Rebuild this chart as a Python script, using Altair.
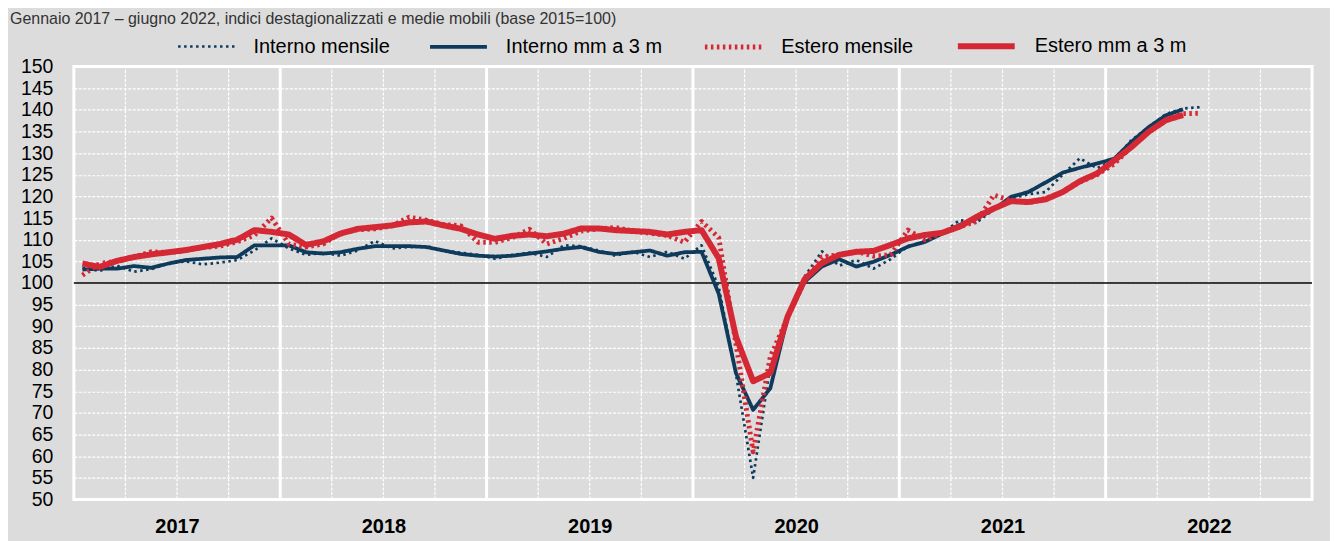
import altair as alt
import pandas as pd

# ---- data ----
series_names = ["Interno mensile", "Interno mm a 3 m", "Estero mensile", "Estero mm a 3 m"]
series_colors = ["#0e3a5c", "#0e3a5c", "#d42835", "#d42835"]
year_labels = ["2017", "2018", "2019", "2020", "2021", "2022"]

# monthly values, Jan 2017 .. Jun 2022
interno_mensile = [
    103.5, 102.8, 104.0, 102.6, 103.2, 104.5, 105.0, 104.3, 104.7, 105.3, 107.5, 110.3,
    108.0, 106.5, 107.0, 106.3, 107.5, 109.7, 108.0, 108.3, 108.5, 107.5, 107.0, 106.5,
    105.6, 106.5, 107.0, 106.0, 108.7, 108.5, 107.5, 106.3, 107.2, 106.0, 107.2, 105.6,
    108.7, 99.0, 79.0, 55.0, 81.0, 92.0, 101.5, 107.3, 104.0, 105.3, 103.3, 105.5,
    108.5, 109.5, 111.5, 114.5, 114.0, 117.0, 119.5, 120.5, 121.0, 125.0, 128.8, 126.5,
    128.5, 133.0, 136.0, 139.0, 140.3, 140.6,
]
estero_mensile = [
    101.8, 104.5, 105.0, 106.0, 107.2, 107.0, 107.5, 108.2, 108.5, 109.5, 111.0, 115.0,
    109.0, 108.3, 109.0, 111.5, 112.3, 112.5, 113.2, 115.2, 114.5, 113.5, 113.2, 109.4,
    109.4, 110.5, 112.4, 109.0, 110.3, 112.0, 112.5, 112.8, 112.0, 111.5, 111.0, 109.4,
    114.2, 110.5, 86.0, 61.0, 83.0, 92.0, 100.5, 106.0, 106.5, 107.3, 106.2, 106.5,
    112.2, 110.0, 111.5, 113.0, 114.2, 120.3, 119.0, 118.5, 119.5, 121.0, 123.3, 125.0,
    127.5, 131.5, 135.0, 137.5, 139.1, 139.2,
]
# 3-month moving averages, Jan 2017 .. May 2022
interno_mm = [
    103.1, 103.3, 103.3, 103.9, 103.5, 104.5, 105.3, 105.6, 105.9, 106.0, 108.7, 108.7,
    108.7, 107.1, 106.8, 107.1, 107.9, 108.5, 108.5, 108.5, 108.3, 107.5, 106.7, 106.3,
    106.1, 106.3, 106.8, 107.3, 107.9, 108.3, 107.2, 106.7, 107.1, 107.5, 106.3, 107.1,
    107.2, 97.5, 79.2, 70.7, 75.7, 92.0, 100.3, 103.8, 105.5, 103.8, 104.9, 106.5,
    108.4, 109.5, 111.4, 113.4, 114.9, 117.0, 119.9, 121.0, 123.2, 125.5, 126.6, 127.6,
    128.7, 132.6, 136.0, 138.7, 140.1,
]
estero_mm = [
    104.5, 103.7, 105.1, 106.0, 106.6, 107.1, 107.6, 108.3, 109.0, 110.0, 112.2, 111.8,
    111.2, 108.8, 109.6, 111.4, 112.5, 112.9, 113.3, 114.0, 114.2, 113.3, 112.5, 111.2,
    110.2, 110.9, 111.2, 110.8, 111.4, 112.6, 112.6, 112.2, 112.0, 111.8, 111.2, 111.8,
    112.2, 105.7, 87.6, 77.3, 79.2, 92.2, 100.9, 104.6, 106.5, 107.2, 107.4, 108.8,
    110.3, 111.1, 111.6, 113.0, 115.3, 117.2, 118.9, 118.7, 119.3, 121.0, 123.5, 125.3,
    128.3, 131.4, 134.9, 137.6, 138.8,
]
quarter_lines = [3, 6, 9, 15, 18, 21, 27, 30, 33, 39, 42, 45, 51, 54, 57, 63, 66, 69]
year_lines = [12, 24, 36, 48, 60]
year_centers = [6, 18, 30, 42, 54, 66]
y_ticks = list(range(50, 151, 5))
reference_level = [100]

rows = []
for name, vals in zip(series_names, [interno_mensile, interno_mm, estero_mensile, estero_mm]):
    for i, v in enumerate(vals):
        rows.append({"t": i + 0.5, "v": v, "serie": name, "ord": i})
df = pd.DataFrame(rows)

FONT = "Liberation Sans Narrow, Arial Narrow, Liberation Sans, sans-serif"

xscale = alt.Scale(domain=[0, 72], nice=False, zero=False)
yscale = alt.Scale(domain=[50, 150], nice=False, zero=False)

label_expr = "[" + ",".join("'%s'" % y for y in year_labels) + "][floor(datum.value / 12)]"

x_axis = alt.Axis(values=year_centers, labelExpr=label_expr, ticks=False, domain=False,
                  grid=False, labelFont=FONT, labelFontSize=20, labelFontWeight="bold",
                  labelColor="#000000", labelPadding=17, title=None)
y_axis = alt.Axis(values=y_ticks, tickCount=21, ticks=False, domain=False, grid=True,
                  gridColor="#ffffff", gridDash=[3, 1.5], gridWidth=1.2,
                  labelFont=FONT, labelFontSize=19.5, labelColor="#000000",
                  labelOverlap=False, labelPadding=21, title=None)

base_grid = alt.Chart(pd.DataFrame({"t": quarter_lines})).mark_rule(
    color="#ffffff", strokeDash=[3, 1.5], strokeWidth=1.2
).encode(x=alt.X("t:Q", scale=xscale, axis=x_axis),
         y=alt.Y(datum=50, scale=yscale, axis=y_axis),
         y2=alt.Y2(datum=150))

year_grid = alt.Chart(pd.DataFrame({"t": year_lines})).mark_rule(
    color="#ffffff", strokeWidth=3
).encode(x=alt.X("t:Q", scale=xscale, axis=x_axis),
         y=alt.Y(datum=50, scale=yscale, axis=y_axis),
         y2=alt.Y2(datum=150))

ref_line = alt.Chart(pd.DataFrame({"v": reference_level})).mark_rule(
    color="#000000", strokeWidth=1.6
).encode(y=alt.Y("v:Q", scale=yscale, axis=y_axis),
         x=alt.X(datum=0, scale=xscale, axis=x_axis), x2=alt.X2(datum=72))

lines = alt.Chart(df).mark_line(strokeJoin="round", strokeCap="butt").encode(
    x=alt.X("t:Q", scale=xscale, axis=x_axis),
    y=alt.Y("v:Q", scale=yscale, axis=y_axis),
    color=alt.Color("serie:N", scale=alt.Scale(domain=series_names, range=series_colors),
                    sort=series_names, title=None),
    strokeDash=alt.StrokeDash("serie:N", scale=alt.Scale(domain=series_names,
                              range=[[2.5, 3.5], [1, 0], [2.5, 3.5], [1, 0]]),
                              sort=series_names, title=None),
    strokeWidth=alt.StrokeWidth("serie:N", scale=alt.Scale(domain=series_names,
                                range=[2.7, 6, 2.7, 6]), sort=series_names, title=None),
    order=alt.Order("ord:Q"),
)

chart = alt.layer(base_grid, year_grid, ref_line, lines).properties(
    width=1241, height=434,
    autosize=alt.AutoSizeParams(type="none"),
    padding={"left": 66, "top": 58, "right": 18, "bottom": 45},
    background="#dcdcdc",
    title=alt.TitleParams(
        "Gennaio 2017 – giugno 2022, indici destagionalizzati e medie mobili (base 2015=100)",
        anchor="start", frame="group", dx=-64, offset=-12, font=FONT, fontSize=16,
        fontWeight="normal", color="#333333"),
).configure_view(
    fill="#dcdcdc", stroke="#ffffff", strokeWidth=3
).configure_axisY(
    labelOverlap=False
).configure_legend(
    orient="none", legendX=103, legendY=-52, direction="horizontal",
    symbolType="stroke", symbolSize=3249, labelFont=FONT, labelFontSize=20,
    labelColor="#000000", labelOffset=17, columnPadding=32, padding=0,
    labelLimit=300,
)

chart.save("out.html", embed_options={"renderer": "svg", "actions": False})
